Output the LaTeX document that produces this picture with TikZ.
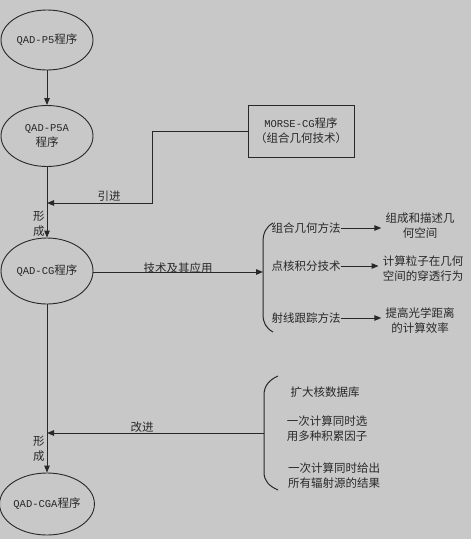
\documentclass[tikz,border=0pt]{standalone}
\usepackage{fontspec}
\setmainfont{Noto Sans CJK SC}
\newfontfamily\lmonof{Liberation Mono}
\newcommand{\lmono}{\lmonof\fontsize{10.5}{15}\selectfont}
\newfontfamily\cjkf{Noto Sans CJK SC}
\newcommand{\cjk}{\cjkf\fontsize{11.5}{15}\selectfont}
\usetikzlibrary{shapes.geometric,arrows.meta}
\definecolor{bg}{RGB}{200,200,200}
\definecolor{ln}{RGB}{40,40,40}
\begin{document}
\begin{tikzpicture}[x=1pt,y=-1pt,
  every node/.style={text=ln, font=\fontsize{11.5}{15}\selectfont},
  ell/.style={draw=ln, line width=0.9pt, ellipse, inner sep=0pt, minimum width=92pt, align=center},
  arr/.style={draw=ln, line width=1pt, -{Triangle[length=7pt,width=5.5pt]}},
  plain/.style={draw=ln, line width=1pt},
  lbl/.style={inner sep=0pt, align=center},
  item/.style={inner sep=0pt, align=center},
  res/.style={inner xsep=4pt, inner ysep=0pt, align=center}]
\fill[bg] (0,0) rectangle (471,539);
\useasboundingbox (0,0) rectangle (471,539);
% ellipses
\node[ell, minimum height=60pt] (p5) at (47,40) {\lmono QAD-P5\cjk 程序};
\node[ell, minimum height=61pt] (p5a) at (47,136) {\lmono QAD-P5A\\\cjk 程序};
\node[ell, minimum height=66pt] (cg) at (47,271) {\lmono QAD-CG\cjk 程序};
\node[ell, minimum height=62pt] (cga) at (47,504) {\lmono QAD-CGA\cjk 程序};
% MORSE box
\node[draw=ln, line width=1pt, minimum width=106pt, minimum height=52pt, inner sep=0pt, align=center] (morse) at (301,131) {\lmono MORSE-CG\cjk 程序\\（组合几何技术）};
% main arrows
\draw[arr] (p5) -- (p5a);
\draw[arr] (p5a) -- (cg);
\draw[arr] (cg) -- (cga);
\coordinate (j1) at (47,203);
\coordinate (k1) at (152,131);
\draw[arr] (morse.west) -- (k1) |- (j1);
\node[lbl] (lin) at (109,196) {引进};
\node[lbl] (xc1) at (39,224) {形\\成};
\node[lbl] (xc2) at (39,449) {形\\成};
% bracket 1
\coordinate (b1) at (263,272);
\draw[plain] (273,223) .. controls (266,227) and (263,233) .. (263,242) -- (263,314) .. controls (263,323) and (266,328) .. (273,332);
\draw[arr] (cg.east |- b1) -- (b1);
\node[lbl] (jsyy) at (178,268) {技术及其应用};
\node[item] (m1) at (306,228) {组合几何方法};
\node[item] (m2) at (306,266) {点核积分技术};
\node[item] (m3) at (306,318) {射线跟踪方法};
\node[res] (r1) at (420,226) {组成和描述几\\何空间};
\node[res] (r2) at (423,269) {计算粒子在几何\\空间的穿透行为};
\node[res] (r3) at (420,321) {提高光学距离\\的计算效率};
\draw[arr] (m1.east) -- (m1.east -| r1.west);
\draw[arr] (m2.east) -- (m2.east -| r2.west);
\draw[arr] (m3.east) -- (m3.east -| r3.west);
% bracket 2
\coordinate (b2) at (264,433);
\coordinate (j2) at (47,433);
\draw[plain] (278,376) .. controls (269,380) and (264,386) .. (264,395) -- (264,472) .. controls (264,481) and (269,486) .. (278,490);
\draw[arr] (b2) -- (j2);
\node[lbl] (gj) at (142,427) {改进};
\node[item] (n1) at (325,392) {扩大核数据库};
\node[item] (n2) at (327,429) {一次计算同时选\\用多种积累因子};
\node[item] (n3) at (334,476) {一次计算同时给出\\所有辐射源的结果};
\end{tikzpicture}
\end{document}
